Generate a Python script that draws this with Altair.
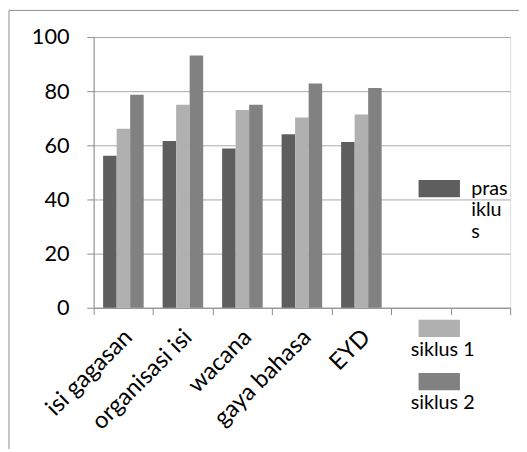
import altair as alt
import pandas as pd

categories = ["isi gagasan", "organisasi isi", "wacana", "gaya bahasa", "EYD"]
fillers = ["_a", "_b"]
series = ["prasiklus", "siklus 1", "siklus 2"]
prasiklus = [56.1, 61.6, 58.8, 64.1, 61.2]
siklus1 = [66.1, 75.0, 73.0, 70.3, 71.4]
siklus2 = [78.7, 93.2, 75.0, 82.8, 81.2]
colors = ["#5e5e5e", "#b0b0b0", "#818181"]
y_ticks = [0, 20, 40, 60, 80, 100]

rows = []
for s, vals in zip(series, [prasiklus, siklus1, siklus2]):
    for c, v in zip(categories, vals):
        rows.append({"kategori": c, "seri": s, "nilai": v})
df = pd.DataFrame(rows)

FONT = "Lato"
GRAY = "#8c8c8c"
PAD = "\u200b" + "\u00a0" * 12
legend_expr = (
    "datum.label == 'prasiklus' ? ['" + PAD + "pras','" + PAD + "iklu','" + PAD + "s','','',''] : ['', datum.label]"
)

bars = alt.Chart(df).mark_bar().encode(
    x=alt.X(
        "kategori:N",
        title=None,
        sort=categories + fillers,
        scale=alt.Scale(domain=categories + fillers, paddingInner=0, paddingOuter=0),
        axis=alt.Axis(
            tickBand="extent",
            labelAngle=315,
            labelAlign="right",
            labelBaseline="middle",
            labelFont=FONT,
            labelFontSize=24,
            labelColor="black",
            labelPadding=19,
            labelOffset=5,
            labelLimit=300,
            labelExpr="slice(datum.label, 0, 1) == '_' ? '' : datum.label",
            domainColor=GRAY,
            tickColor=GRAY,
            tickSize=7,
            grid=False,
        ),
    ),
    xOffset=alt.XOffset(
        "seri:N",
        sort=series,
        scale=alt.Scale(domain=series, paddingInner=0, paddingOuter=0.7),
    ),
    y=alt.Y(
        "nilai:Q",
        title=None,
        scale=alt.Scale(domain=[0, 100]),
        axis=alt.Axis(
            values=y_ticks,
            labelFont=FONT,
            labelFontSize=22,
            labelColor="black",
            labelPadding=18,
            domainColor=GRAY,
            tickColor=GRAY,
            tickSize=7,
            grid=True,
            gridColor="#a8a8a8",
        ),
    ),
    color=alt.Color(
        "seri:N",
        sort=series,
        scale=alt.Scale(domain=series, range=colors),
        legend=alt.Legend(
            title=None,
            orient="none",
            legendX=330,
            legendY=133,
            padding=0,
            symbolType="M-1,-0.42H1V0.42H-1Z",
            symbolSize=1764,
            symbolStrokeWidth=0,
            symbolOpacity=1,
            labelFont=FONT,
            labelFontSize=20,
            labelColor="black",
            labelOffset={"expr": "-50"},
            labelLimit=400,
            labelExpr=legend_expr,
            rowPadding=1,
        ),
    ),
)

frame = alt.Chart(pd.DataFrame({"k": [0]})).mark_rect(
    filled=False, stroke=GRAY, strokeWidth=1
).encode(
    x=alt.value(-86), x2=alt.value(700), y=alt.value(-27), y2=alt.value(700)
)

chart = alt.layer(frame, bars).properties(
    width=423,
    height=275,
    autosize=alt.AutoSizeParams(type="none"),
    padding={"left": 87, "top": 26, "right": 9, "bottom": 140},
).configure_view(stroke=None).configure(background="white")

chart.save("out.html", embed_options={"renderer": "svg", "actions": False})
